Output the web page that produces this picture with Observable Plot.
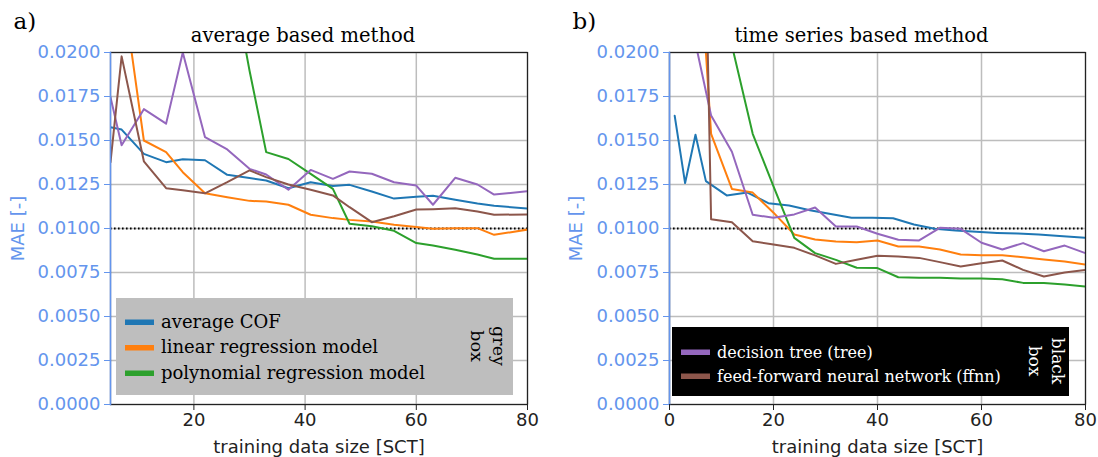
<!DOCTYPE html>
<html><head><meta charset="utf-8">
<script src="https://cdn.jsdelivr.net/npm/d3@7"></script>
<script src="https://cdn.jsdelivr.net/npm/@observablehq/plot@0.6"></script>
<style>
body{margin:0;background:#fff;}
#wrap{position:relative;width:1098px;height:457px;overflow:hidden;background:#fff;}
#left{position:absolute;left:0;top:0;}
#right{position:absolute;left:549px;top:0;}
#ov{position:absolute;left:0;top:0;pointer-events:none;}
</style></head><body>
<div id="wrap"><div id="left"></div><div id="right"></div><svg id="ov" width="1098" height="457"></svg></div>
<script>
// ---------- data ----------
const seriesNames = ["average COF", "linear regression model", "polynomial regression model", "decision tree (tree)", "feed-forward neural network (ffnn)"];
const seriesColors = ["#1f77b4", "#ff7f0e", "#2ca02c", "#9467bd", "#8c564b"];
const greyBoxNames = seriesNames.slice(0, 3);
const blackBoxNames = seriesNames.slice(3);

const yTicks = [0, 0.0025, 0.005, 0.0075, 0.01, 0.0125, 0.015, 0.0175, 0.02];
const threshold = [0.01];
const xTicksLeft = [20, 40, 60, 80];
const xTicksRight = [0, 20, 40, 60, 80];

// panel a) average based method
const xLeft = [5, 7, 11, 15, 18, 22, 26, 30, 33, 37, 41, 45, 48, 52, 56, 60, 63, 67, 71, 74, 80];
const avgCOF_L = [0.01575, 0.01562, 0.01424, 0.01377, 0.01394, 0.01388, 0.01305, 0.01287, 0.01273, 0.01229, 0.01263, 0.01241, 0.01248, 0.01210, 0.01170, 0.01180, 0.01186, 0.01163, 0.01142, 0.01129, 0.01114];
const linReg_L = [null, 0.0241, 0.0150, 0.01434, 0.01320, 0.01200, 0.01178, 0.01157, 0.01153, 0.01135, 0.01078, 0.01059, 0.01049, 0.01040, 0.01021, 0.01008, 0.00998, 0.01002, 0.01002, 0.00964, 0.00994];
const polyReg_L = [null, null, null, null, null, null, 0.0258, 0.01898, 0.01434, 0.01395, 0.01310, 0.01225, 0.01027, 0.01013, 0.00987, 0.00917, 0.00903, 0.00879, 0.00852, 0.00828, 0.00828];
const tree_L = [0.01746, 0.01473, 0.01678, 0.01596, 0.0200, 0.01519, 0.01449, 0.01339, 0.01307, 0.01220, 0.01333, 0.01282, 0.01324, 0.01311, 0.01263, 0.01244, 0.01135, 0.01288, 0.01250, 0.01193, 0.01212];
const ffnn_L = [0.01377, 0.01978, 0.01382, 0.01229, 0.01217, 0.01200, 0.01263, 0.01330, 0.01292, 0.01250, 0.01220, 0.01188, 0.01121, 0.01036, 0.01070, 0.01108, 0.01110, 0.01115, 0.01097, 0.01078, 0.01080];

// panel b) time series based method
const xRightCOF = [1, 3, 5, 7, 11, 15, 19, 23, 27, 31, 35, 39, 43, 47, 51, 55, 59, 63, 67, 71, 75, 80];
const avgCOF_R = [0.01640, 0.01258, 0.01533, 0.01269, 0.01188, 0.01204, 0.01144, 0.01131, 0.01104, 0.01083, 0.01061, 0.01061, 0.01058, 0.01023, 0.00998, 0.00989, 0.00981, 0.00975, 0.00971, 0.00966, 0.00958, 0.00947];
const xRight = [4, 8, 12, 16, 20, 24, 28, 32, 36, 40, 44, 48, 52, 56, 60, 64, 68, 72, 76, 80];
const linReg_R = [0.0339, 0.01538, 0.01225, 0.01204, 0.01090, 0.00966, 0.00938, 0.00926, 0.00922, 0.00932, 0.00898, 0.00898, 0.00881, 0.00852, 0.00848, 0.00848, 0.00837, 0.00824, 0.00813, 0.00795];
const polyReg_R = [null, null, 0.0204, 0.01538, 0.01239, 0.00947, 0.00860, 0.00822, 0.00777, 0.00775, 0.00723, 0.00720, 0.00720, 0.00716, 0.00716, 0.00712, 0.00691, 0.00691, 0.00682, 0.00670];
const tree_R = [0.0219, 0.01642, 0.01436, 0.01078, 0.01061, 0.01080, 0.01119, 0.01011, 0.01011, 0.00970, 0.00936, 0.00932, 0.01004, 0.00998, 0.00919, 0.00881, 0.00917, 0.00871, 0.00903, 0.00860];
const ffnn_R = [0.070, 0.01053, 0.01036, 0.00928, 0.00909, 0.00890, 0.00847, 0.00799, 0.00822, 0.00845, 0.00841, 0.00833, 0.00809, 0.00784, 0.00803, 0.00818, 0.00765, 0.00727, 0.00750, 0.00765];

// ---------- build ----------
const rows = (xs, ys, name) => xs.map((x, i) => ({x, y: ys[i], name}));
const leftData = [
  ...rows(xLeft, avgCOF_L, seriesNames[0]),
  ...rows(xLeft, linReg_L, seriesNames[1]),
  ...rows(xLeft, polyReg_L, seriesNames[2]),
  ...rows(xLeft, tree_L, seriesNames[3]),
  ...rows(xLeft, ffnn_L, seriesNames[4])
];
const rightData = [
  ...rows(xRightCOF, avgCOF_R, seriesNames[0]),
  ...rows(xRight, linReg_R, seriesNames[1]),
  ...rows(xRight, polyReg_R, seriesNames[2]),
  ...rows(xRight, tree_R, seriesNames[3]),
  ...rows(xRight, ffnn_R, seriesNames[4])
];

const axisBlue = "#6495ed";
const gridStyle = {stroke: "#bdbdbd", strokeOpacity: 1, strokeWidth: 1.5};

function panel({data, xDomain, xTicks, marginLeft, marginRight, title, letter, letterDx, yLabelOffset}) {
  return Plot.plot({
    width: 549, height: 457,
    marginLeft, marginRight, marginTop: 52, marginBottom: 53,
    style: {fontFamily: "DejaVu Sans", fontSize: "18px", background: "white", color: "#222", overflow: "visible"},
    x: {domain: xDomain},
    y: {domain: [0, 0.02]},
    color: {domain: seriesNames, range: seriesColors},
    marks: [
      Plot.gridX(xTicks, gridStyle),
      Plot.gridY(yTicks, gridStyle),
      Plot.ruleY(threshold, {stroke: "black", strokeWidth: 2, strokeDasharray: "1.6,2.4"}),
      Plot.line(data, {x: "x", y: "y", z: "name", stroke: "name", strokeWidth: 2, clip: true}),
      Plot.frame({stroke: "#222", strokeWidth: 1.2}),
      Plot.frame({anchor: "left", stroke: axisBlue, strokeWidth: 1.5}),
      Plot.axisX({ticks: xTicks, tickSize: 6, tickPadding: 3, color: "#222",
        label: "training data size [SCT]", labelAnchor: "center", labelArrow: "none", labelOffset: 48}),
      Plot.axisY({ticks: yTicks, tickFormat: d3.format(".4f"), tickSize: 6, tickPadding: 4, color: axisBlue,
        label: "MAE [-]", labelAnchor: "center", labelArrow: "none", labelOffset: yLabelOffset}),
      Plot.text([title], {text: d => d, frameAnchor: "top", dx: -16, dy: -17, lineAnchor: "middle",
        fontFamily: "DejaVu Serif", fontSize: 19.5, fill: "black"}),
      Plot.text([letter], {text: d => d, frameAnchor: "top-left", dx: letterDx, dy: -31, lineAnchor: "middle",
        fontFamily: "DejaVu Serif", fontSize: 23, fill: "black"})
    ]
  });
}

document.getElementById("left").appendChild(panel({
  data: leftData, xDomain: [5, 80], xTicks: xTicksLeft, marginLeft: 110, marginRight: 22,
  title: "average based method", letter: "a)", letterDx: -97, yLabelOffset: 99
}));
document.getElementById("right").appendChild(panel({
  data: rightData, xDomain: [0, 80], xTicks: xTicksRight, marginLeft: 120, marginRight: 13,
  title: "time series based method", letter: "b)", letterDx: -97, yLabelOffset: 100
}));

// ---------- legends (overlay) ----------
const ov = d3.select("#ov");
function legend({x, y, w, h, fill, textColor, names, rowY, fontSize, tag, tagX, tagY, tagSize}) {
  const g = ov.append("g");
  g.append("rect").attr("x", x).attr("y", y).attr("width", w).attr("height", h).attr("fill", fill);
  names.forEach((n, i) => {
    const c = seriesColors[seriesNames.indexOf(n)];
    const cy = rowY[i];
    g.append("rect").attr("x", x + 9).attr("y", cy - 2.5).attr("width", 29).attr("height", 5.5).attr("fill", c);
    g.append("text").attr("x", x + 45).attr("y", cy + 5.5).attr("fill", textColor)
      .attr("font-family", "DejaVu Serif").attr("font-size", fontSize).text(n);
  });
  tag.forEach((t, i) => {
    g.append("text").attr("transform", `translate(${tagX[i]},${tagY}) rotate(90)`)
      .attr("text-anchor", "middle").attr("dominant-baseline", "central").attr("fill", textColor)
      .attr("font-family", "DejaVu Serif").attr("font-size", tagSize).text(t);
  });
}
legend({x: 116, y: 298, w: 397, h: 97, fill: "#bebebe", textColor: "black", names: greyBoxNames,
  rowY: [322, 347.5, 373], fontSize: 18, tag: ["grey", "box"], tagX: [499, 477], tagY: 346, tagSize: 17.5});
legend({x: 672, y: 327, w: 397, h: 69, fill: "black", textColor: "white", names: blackBoxNames,
  rowY: [352, 376], fontSize: 16, tag: ["black", "box"], tagX: [1058, 1035], tagY: 361, tagSize: 17});
</script>
</body></html>
